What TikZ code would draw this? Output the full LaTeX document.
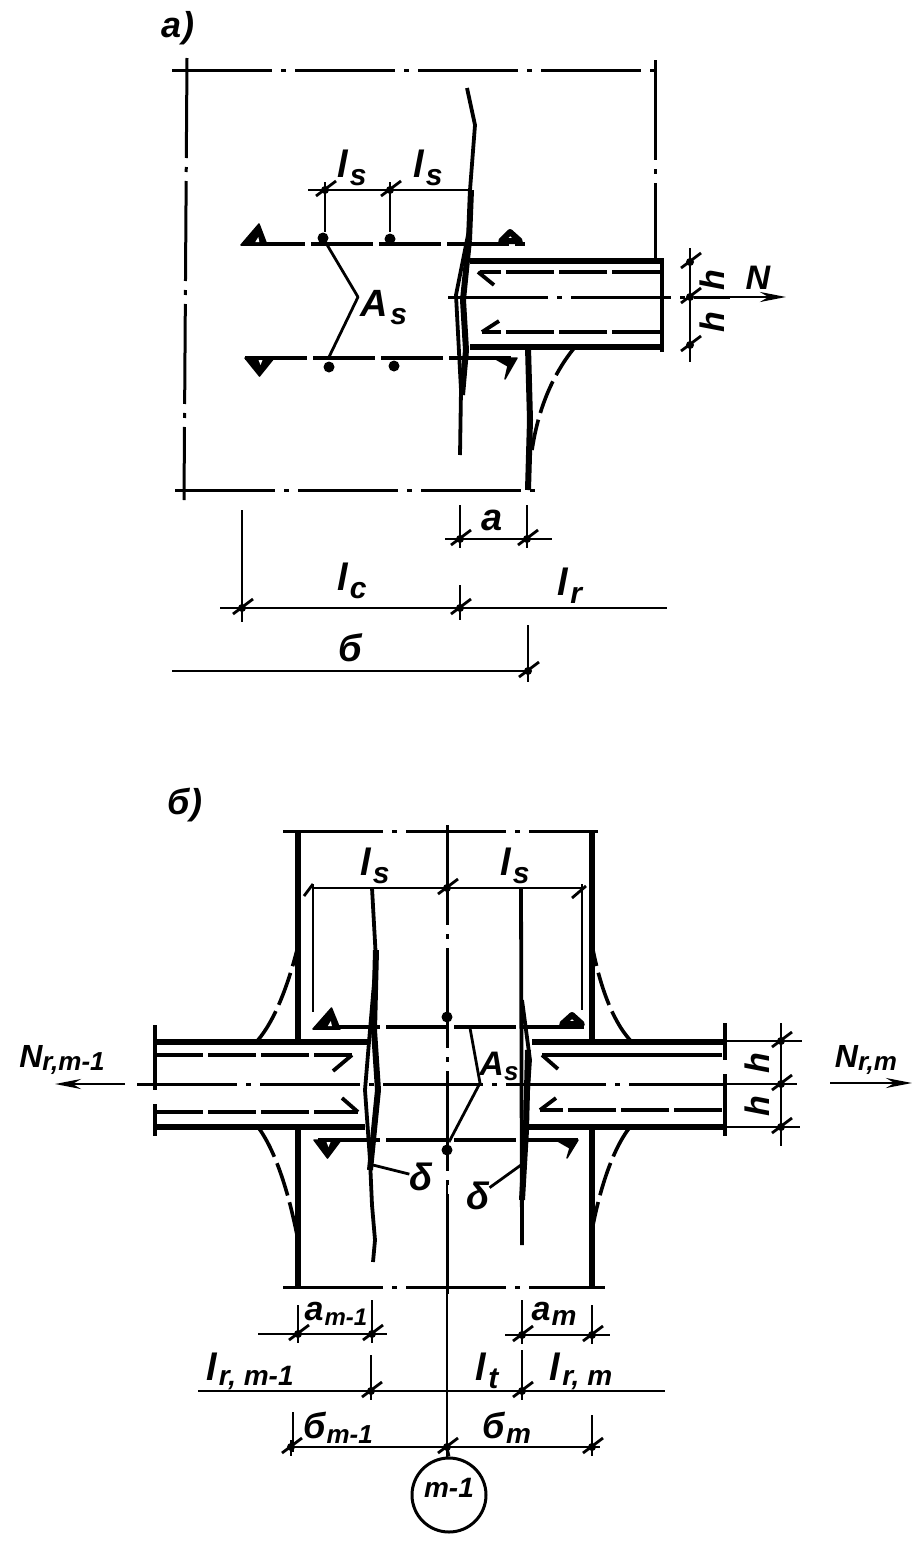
\documentclass[tikz,border=0pt]{standalone}
\usepackage{fontspec}
\setmainfont{Liberation Sans}
\usetikzlibrary{arrows.meta}
\newcommand{\bi}[2]{{\fontsize{#1}{#1}\selectfont\bfseries\itshape #2}}
\newcommand{\lb}[2]{\bi{38}{#1}\kern2pt\raisebox{-8pt}{\bi{30}{#2}}}
\newcommand{\dimtick}[2]{\draw[tickln] (#1-9,#2+6) -- (#1+11,#2-9); \fill (#1,#2) circle (4pt); \draw[thinln] (#1,#2-7) -- (#1,#2+9);}
\newcommand{\triup}[3]{\draw[tri] (#1,#3) -- (#1+#2/2+5,#3-21) -- (#1+#2,#3) -- cycle; \fill[white] (#1+#2*0.55,#3-3) -- (#1+#2*0.55+3,#3-8) -- (#1+#2*0.55+4,#3-3) -- cycle;}
\newcommand{\tridn}[3]{\draw[tri] (#1,#3) -- (#1+#2,#3) -- (#1+#2/2,#3+18) -- cycle; \fill[white] (#1+#2*0.5-1,#3+2) -- (#1+#2*0.5+3,#3+2) -- (#1+#2*0.5+1,#3+7) -- cycle;}
\tikzset{
  thinln/.style={line width=2.8pt},
  medln/.style={line width=3.8pt},
  thickln/.style={line width=6pt},
  tickln/.style={line width=2.8pt},
  axisln/.style={line width=3pt,dash pattern=on 100pt off 9pt on 5pt off 9pt},
  barln/.style={line width=4.5pt,dash pattern=on 62pt off 6pt},
  ribdash/.style={line width=4.5pt,dash pattern=on 48pt off 5pt},
  haunch/.style={line width=3.6pt,dash pattern=on 34pt off 7pt},
  tri/.style={fill=black,draw=black,line width=1.5pt,line join=round},
  hollow/.style={draw=black,line width=6pt,line join=round},
  txt/.style={inner sep=0pt,outer sep=0pt},
  rot/.style={txt,rotate=90},
  dot/.style={circle,fill=black,inner sep=0pt,minimum size=11pt}
}
\begin{document}
\begin{tikzpicture}[x=1pt,y=-1pt,line cap=butt,line join=round]
\useasboundingbox (0,0) rectangle (914,1545);
% ---------- a)
\node[txt] (la) at (178,28) {\bi{36}{а)}};
\draw[axisln] (172,70) -- (660,70);
\draw[axisln] (187,58) -- (184,500);
\draw[axisln] (655,60) -- (655,262);
\draw[axisln] (175,490) -- (540,490);
% wavy lines
\draw[medln] (467,88) -- (475,125) -- (470,190);
\draw[thickln] (471,190) -- (469,240);
\draw[medln] (470,225) -- (456,295) -- (461,390) -- (460,455);
\draw[thickln] (469,240) -- (463,300) -- (466,350) -- (462,395);
% dimension ls
\draw[thinln] (308,190) -- (470,190);
\draw[thinln] (325,182) -- (325,232);
\draw[thinln] (390,182) -- (390,232);
\dimtick{325}{190}\dimtick{390}{190}
\node[txt] (ls1) at (352,168) {\lb{l}{s}};
\node[txt] (ls2) at (428,168) {\lb{l}{s}};
% top bar
\draw[barln] (243,244) -- (525,244);
\triup{241}{26}{245}
\draw[hollow] (501,241) -- (510,232) -- (520,241) -- cycle;
\node[dot] (d1) at (323,238) {};
\node[dot] (d2) at (390,239) {};
% bottom bar
\draw[barln] (245,358) -- (515,358);
\tridn{245}{29}{358}
\draw[tri] (494,358) -- (517,358) -- (505,379) -- (508,366) -- cycle;
\node[dot] (d3) at (329,367) {};
\node[dot] (d4) at (394,366) {};
% As leader
\coordinate (ka) at (358,297);
\draw[thinln] (d1) -- (ka) -- (329,357);
\node[txt] (as1) at (384,308) {\lb{A}{s}};
% rib
\draw[thickln] (470,261) -- (664,261);
\draw[thickln] (470,347) -- (664,347);
\draw[medln] (662,258) -- (662,352);
\draw[ribdash] (660,272) -- (480,272);
\draw[medln] (478,272) -- (494,285);
\draw[ribdash] (660,332) -- (482,332);
\draw[medln] (482,332) -- (499,321);
\draw[axisln] (448,297) -- (730,297);
\draw[thinln,-{Stealth[length=26pt,width=10pt]}] (730,297) -- (786,297);
% h dim
\draw[thinln] (690,248) -- (690,362);
\dimtick{690}{262}\dimtick{690}{297}\dimtick{690}{345}
\node[rot] (h1) at (712,280) {\bi{34}{h}};
\node[rot] (h2) at (712,322) {\bi{34}{h}};
\node[txt] (N) at (758,278) {\bi{34}{N}};
% column
\draw[thickln] (528,347) -- (530,420) -- (528,490);
\draw[haunch] (575,347) .. controls (552,375) and (538,410) .. (532,450);
% dims
\draw[thinln] (460,505) -- (460,548);
\draw[thinln] (527,505) -- (527,545);
\draw[thinln] (445,539) -- (552,539);
\dimtick{460}{539}\dimtick{527}{539}
\node[txt] (a1) at (492,520) {\bi{38}{a}};
\draw[thinln] (242,510) -- (242,622);
\draw[thinln] (460,585) -- (460,620);
\draw[thinln] (220,608) -- (667,608);
\dimtick{242}{608}\dimtick{460}{608}
\node[txt] (lc) at (352,581) {\lb{l}{c}};
\node[txt] (lr) at (570,586) {\lb{l}{r}};
\draw[thinln] (172,671) -- (528,671);
\draw[thinln] (528,625) -- (528,682);
\dimtick{528}{671}
\node[txt] (b1) at (350,648) {\bi{38}{б}};
% ---------- b)
\node[txt] (lb) at (185,805) {\bi{36}{б)}};
\draw[axisln] (283,831) -- (598,831);
\draw[axisln] (447,825) -- (447,1300);
\draw[thinln] (447,1180) -- (447,1459);
\draw[axisln] (137,1084) -- (725,1084);
\draw[thickln] (298,831) -- (298,1042);
\draw[thickln] (592,831) -- (592,1042);
\draw[thickln] (298,1127) -- (298,1287);
\draw[thickln] (592,1127) -- (592,1287);
\draw[axisln] (283,1287) -- (605,1287);
% ls dims
\draw[thinln] (313,888) -- (585,888);
\draw[thinln] (313,884) -- (313,1012);
\draw[thinln] (582,884) -- (582,1010);
\draw[tickln] (313,884) -- (304,896);
\draw[tickln] (572,898) -- (586,886);
\dimtick{447}{888}
\node[txt] (ls3) at (375,866) {\lb{l}{s}};
\node[txt] (ls4) at (515,866) {\lb{l}{s}};
% welds
\draw[medln] (372,888) -- (376,960) -- (370,1030) -- (365,1090) -- (370,1160) -- (372,1205) -- (375,1240) -- (373,1262);
\draw[thickln] (376,950) -- (374,1030) -- (378,1090) -- (370,1170);
\draw[medln] (521,888) -- (522,1245);
\draw[medln] (522,1000) -- (530,1060) -- (526,1120);
\draw[thickln] (528,1050) -- (526,1130) -- (522,1200);
% bars
\draw[barln] (318,1027) -- (585,1027);
\triup{313}{27}{1029}
\draw[hollow] (562,1024) -- (572,1015) -- (582,1024) -- cycle;
\node[dot] (d5) at (447,1017) {};
\draw[barln] (318,1140) -- (578,1140);
\tridn{314}{27}{1140}
\draw[tri] (556,1140) -- (578,1140) -- (567,1158) -- (570,1148) -- cycle;
\node[dot] (d6) at (447,1150) {};
% As leader
\coordinate (kb) at (480,1083);
\coordinate (kt) at (470,1028);
\draw[thinln] (kt) -- (kb) -- (449,1142);
\node[txt] (as2) at (499,1066) {\bi{34}{A}\raisebox{-5pt}{\bi{26}{s}}};
% left rib
\draw[medln] (155,1025) -- (155,1090);
\draw[medln] (155,1104) -- (155,1136);
\draw[thickln] (155,1042) -- (370,1042);
\draw[thickln] (155,1127) -- (365,1127);
\draw[ribdash] (155,1055) -- (352,1055);
\draw[medln] (352,1055) -- (333,1071);
\draw[ribdash] (155,1112) -- (358,1112);
\draw[medln] (358,1112) -- (342,1098);
\draw[thinln,-{Stealth[length=26pt,width=10pt]}] (125,1084) -- (55,1084);
\node[txt] (Nl) at (62,1060) {\bi{32}{N}\raisebox{-3pt}{\bi{26}{r,m-1}}};
% right rib
\draw[medln] (725,1023) -- (725,1060);
\draw[medln] (725,1074) -- (725,1136);
\draw[thickln] (532,1042) -- (725,1042);
\draw[thickln] (525,1127) -- (725,1127);
\draw[thinln] (725,1041) -- (802,1041);
\draw[thinln] (725,1127) -- (800,1127);
\draw[thinln] (725,1084) -- (797,1084);
\draw[medln] (722,1055) -- (542,1055);
\draw[medln] (542,1055) -- (558,1069);
\draw[ribdash] (722,1110) -- (540,1110);
\draw[medln] (540,1110) -- (556,1098);
\draw[thinln,-{Stealth[length=26pt,width=10pt]}] (830,1083) -- (912,1083);
\node[txt] (Nr) at (866,1060) {\bi{32}{N}\raisebox{-3pt}{\bi{26}{r,m}}};
\draw[thinln] (781,1023) -- (781,1146);
\dimtick{781}{1041}\dimtick{781}{1084}\dimtick{781}{1127}
\node[rot] (h3) at (757,1063) {\bi{34}{h}};
\node[rot] (h4) at (757,1106) {\bi{34}{h}};
% haunches
\draw[haunch] (258,1040) .. controls (275,1020) and (288,985) .. (297,950);
\draw[haunch] (630,1040) .. controls (612,1020) and (600,985) .. (593,950);
\draw[haunch] (258,1127) .. controls (275,1150) and (288,1190) .. (297,1235);
\draw[haunch] (630,1127) .. controls (612,1150) and (600,1190) .. (593,1225);
% delta labels
\node[txt] (dl1) at (421,1177) {\bi{38}{δ}};
\node[txt] (dl2) at (478,1196) {\bi{38}{δ}};
\coordinate (wl) at (373,1165);
\coordinate (wr) at (521,1165);
\draw[thinln] (wl) -- (dl1);
\draw[thinln] (wr) -- (dl2);
% lower dims
\draw[thinln] (298,1305) -- (298,1340);
\draw[thinln] (372,1300) -- (372,1340);
\draw[thinln] (258,1334) -- (387,1334);
\dimtick{298}{1334}\dimtick{372}{1334}
\node[txt] (am1) at (336,1314) {\bi{34}{a}\kern1pt\raisebox{-5pt}{\bi{24}{m-1}}};
\draw[thinln] (522,1300) -- (522,1340);
\draw[thinln] (592,1305) -- (592,1340);
\draw[thinln] (505,1335) -- (610,1335);
\dimtick{522}{1335}\dimtick{592}{1335}
\node[txt] (am) at (554,1314) {\bi{34}{a}\kern1pt\raisebox{-5pt}{\bi{28}{m}}};
\draw[thinln] (198,1391) -- (665,1391);
\draw[thinln] (371,1355) -- (371,1400);
\draw[thinln] (522,1350) -- (522,1400);
\dimtick{371}{1391}\dimtick{522}{1391}
\node[txt] (lrm1) at (250,1371) {\bi{38}{l}\kern2pt\raisebox{-5pt}{\bi{28}{r, m-1}}};
\node[txt] (lt) at (487,1371) {\lb{l}{t}};
\node[txt] (lrm) at (581,1371) {\bi{38}{l}\kern2pt\raisebox{-5pt}{\bi{28}{r, m}}};
\draw[thinln] (288,1447) -- (600,1447);
\draw[thinln] (293,1412) -- (293,1452);
\draw[thinln] (592,1415) -- (592,1455);
\dimtick{291}{1447}\dimtick{447}{1447}\dimtick{592}{1447}
\node[txt] (bm1) at (338,1428) {\bi{36}{б}\kern1pt\raisebox{-5pt}{\bi{26}{m-1}}};
\node[txt] (bm) at (507,1428) {\bi{36}{б}\kern1pt\raisebox{-5pt}{\bi{28}{m}}};
% circle
\node[circle,draw=black,line width=3pt,minimum size=74pt,inner sep=0pt] (ax) at (449,1495) {};
\node[txt] (axt) at (449,1488) {\bi{28}{m-1}};
\coordinate (axtop) at (447,1447);
\draw[thinln] (axtop) -- (ax.north);
\end{tikzpicture}
\end{document}
